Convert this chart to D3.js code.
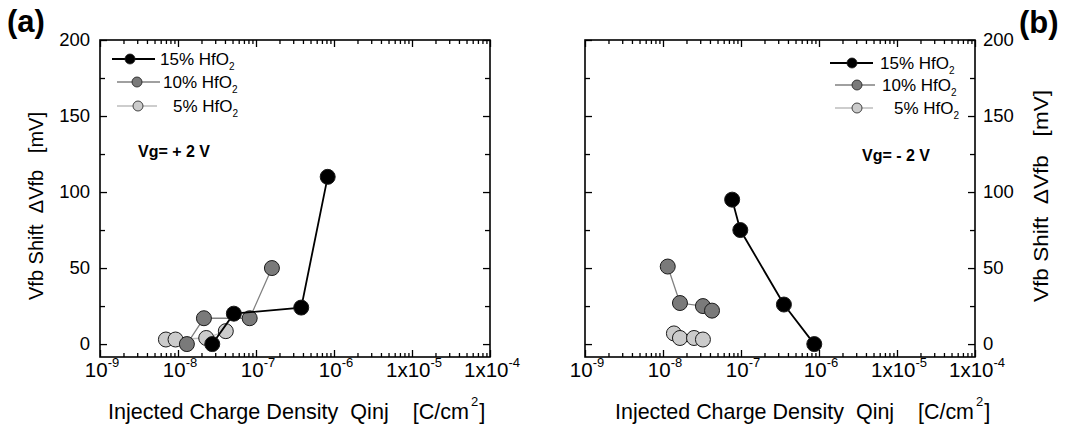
<!DOCTYPE html>
<html>
<head>
<meta charset="utf-8">
<script src="https://cdn.jsdelivr.net/npm/d3@7/dist/d3.min.js"></script>
<style>
body{margin:0;background:#fff}
svg{display:block;font-family:"Liberation Sans",Arial,sans-serif}
</style>
</head>
<body>
<svg id="chart" width="1065" height="431"></svg>
<script>
// x axis decades and tick labels
var decades = [1e-9, 1e-8, 1e-7, 1e-6, 1e-5, 1e-4];
var decadeBase = ["10", "10", "10", "10", "1x10", "1x10"];
var decadeExp = ["-9", "-8", "-7", "-6", "-5", "-4"];
var yMajor = [0, 50, 100, 150, 200];
var yMinor = [25, 75, 125, 175];
var seriesNames = ["15% HfO", "10% HfO", "5% HfO"];

// (a) Vg = +2 V   (Qinj in C/cm2, shift in mV)
var qA15 = [2.75e-8, 5.2e-8, 3.8e-7, 8.3e-7];
var vA15 = [0, 20, 24, 110];
var qA10 = [1.3e-8, 2.15e-8, 8.3e-8, 1.6e-7];
var vA10 = [0, 17, 17, 50];
var qA5 = [7e-9, 9.3e-9, 2.3e-8, 4.1e-8];
var vA5 = [3, 3, 4, 8.5];

// (b) Vg = -2 V
var qB15 = [7.7e-8, 9.8e-8, 3.55e-7, 8.7e-7];
var vB15 = [95, 75, 26, 0];
var qB10 = [1.15e-8, 1.65e-8, 3.25e-8, 4.25e-8];
var vB10 = [51, 27, 25, 22];
var qB5 = [1.38e-8, 1.65e-8, 2.5e-8, 3.25e-8];
var vB5 = [7, 4, 4, 3];

var fills = ["#000", "#7a7a7a", "#cbcbcb"];
var lineCol = ["#000", "#808080", "#bdbdbd"];
var lineW = [1.8, 1.3, 1.3];

function zip(q, v){ return q.map(function(d, i){ return {q: d, v: v[i]}; }); }

var panels = [
  {x0: 100, x1: 490, side: "left", vg: "Vg= + 2 V", vgX: 138, vgY: 157,
   data: [zip(qA15, vA15), zip(qA10, vA10), zip(qA5, vA5)],
   leg: [{y: 59, l0: 112, l1: 155, m: 130, t: 160}, {y: 82, l0: 117, l1: 160, m: 137, t: 163}, {y: 106, l0: 117, l1: 157, m: 138, t: 173}],
   xt: 108, xtLen: 361, yt: 43, ytTop: 112, ytBot: 300, lab: "(a)", labX: 7, labY: 32},
  {x0: 585, x1: 975, side: "right", vg: "Vg= - 2 V", vgX: 862, vgY: 161,
   data: [zip(qB15, vB15), zip(qB10, vB10), zip(qB5, vB5)],
   leg: [{y: 63, l0: 830, l1: 873, m: 852, t: 880}, {y: 85, l0: 835, l1: 875, m: 857, t: 882}, {y: 108, l0: 835, l1: 873, m: 857, t: 894}],
   xt: 615, xtLen: 359, yt: 1048, ytTop: 90, ytBot: 302, lab: "(b)", labX: 1019, labY: 33}
];

var svg = d3.select("#chart");
var plotTop = 40, plotBot = 357;
var y = d3.scaleLinear().domain([-8.5, 200]).range([plotBot, plotTop]);

var minors = [];
decades.slice(0, 5).forEach(function(d){
  for (var k = 2; k <= 9; k++) minors.push(d * k);
});

panels.forEach(function(p){
  var x = d3.scaleLog().domain([1e-9, 1e-4]).range([p.x0, p.x1]);
  var g = svg.append("g");

  // ticks, all pointing inward
  function ax(gen, tx, ty){
    var a = g.append("g").attr("transform", "translate(" + tx + "," + ty + ")").call(gen);
    a.select(".domain").remove();
    a.selectAll("text").remove();
    a.selectAll("line").attr("stroke", "#000").attr("stroke-width", 1.3);
  }
  ax(d3.axisBottom(x).tickValues(decades).tickSize(-7), 0, plotBot);
  ax(d3.axisBottom(x).tickValues(minors).tickSize(-4), 0, plotBot);
  ax(d3.axisTop(x).tickValues(decades).tickSize(-7), 0, plotTop);
  ax(d3.axisTop(x).tickValues(minors).tickSize(-4), 0, plotTop);
  ax(d3.axisLeft(y).tickValues(yMajor).tickSize(-7), p.x0, 0);
  ax(d3.axisLeft(y).tickValues(yMinor).tickSize(-5), p.x0, 0);
  ax(d3.axisRight(y).tickValues(yMajor).tickSize(-7), p.x1, 0);
  ax(d3.axisRight(y).tickValues(yMinor).tickSize(-5), p.x1, 0);

  g.append("rect").attr("x", p.x0).attr("y", plotTop)
    .attr("width", p.x1 - p.x0).attr("height", plotBot - plotTop)
    .attr("fill", "none").attr("stroke", "#000").attr("stroke-width", 1.6);

  // x tick labels
  decades.forEach(function(d, i){
    var t = g.append("text").attr("x", x(d) + 2).attr("y", 377)
      .attr("text-anchor", "middle").attr("font-size", 20.5);
    t.append("tspan").text(decadeBase[i]);
    t.append("tspan").attr("dy", -10).attr("font-size", 13).text(decadeExp[i]);
  });

  // y tick labels
  yMajor.forEach(function(v){
    g.append("text")
      .attr("x", p.side == "left" ? p.x0 - 10 : p.x1 + 8)
      .attr("y", y(v) + 6)
      .attr("text-anchor", p.side == "left" ? "end" : "start")
      .attr("font-size", 18.5).text(v);
  });

  // x title
  var xt = g.append("text").attr("x", p.xt).attr("y", 419).attr("font-size", 22)
    .attr("xml:space", "preserve").style("white-space", "pre");
  xt.append("tspan").attr("textLength", p.xtLen).attr("lengthAdjust", "spacingAndGlyphs")
    .text("Injected Charge Density  Qinj    [C/cm");
  xt.append("tspan").attr("dx", 2).attr("dy", -13).attr("font-size", 13).text("2");
  xt.append("tspan").attr("dx", 1).attr("dy", 13).text("]");

  // y title
  g.append("text")
    .attr("transform", "translate(" + p.yt + "," + p.ytBot + ") rotate(-90)")
    .attr("font-size", 21)
    .attr("xml:space", "preserve").style("white-space", "pre")
    .attr("textLength", p.ytBot - p.ytTop).attr("lengthAdjust", "spacingAndGlyphs")
    .text("Vfb Shift  \u0394Vfb   [mV]");

  // series: draw 5% first, 15% on top
  [2, 1, 0].forEach(function(s){
    var line = d3.line().x(function(d){ return x(d.q); }).y(function(d){ return y(d.v); });
    g.append("path").datum(p.data[s]).attr("d", line)
      .attr("fill", "none").attr("stroke", lineCol[s]).attr("stroke-width", lineW[s]);
    g.selectAll(null).data(p.data[s]).enter().append("circle")
      .attr("cx", function(d){ return x(d.q); })
      .attr("cy", function(d){ return y(d.v); })
      .attr("r", 7.5)
      .attr("fill", fills[s]).attr("stroke", "#1a1a1a").attr("stroke-width", 1);
  });

  // legend
  p.leg.forEach(function(L, s){
    g.append("line").attr("x1", L.l0).attr("x2", L.l1).attr("y1", L.y).attr("y2", L.y)
      .attr("stroke", lineCol[s]).attr("stroke-width", lineW[s]);
    g.append("circle").attr("cx", L.m).attr("cy", L.y).attr("r", 5)
      .attr("fill", fills[s]).attr("stroke", "#1a1a1a").attr("stroke-width", 0.8);
    var t = g.append("text").attr("x", L.t).attr("y", L.y + 6).attr("font-size", 17);
    t.append("tspan").text(seriesNames[s]);
    t.append("tspan").attr("dy", 5).attr("font-size", 10).text("2");
  });

  g.append("text").attr("x", p.vgX).attr("y", p.vgY)
    .attr("font-size", 16).attr("font-weight", "bold")
    .attr("xml:space", "preserve").style("white-space", "pre").text(p.vg);

  g.append("text").attr("x", p.labX).attr("y", p.labY)
    .attr("font-size", 31).attr("font-weight", "bold").text(p.lab);
});
</script>
</body>
</html>
